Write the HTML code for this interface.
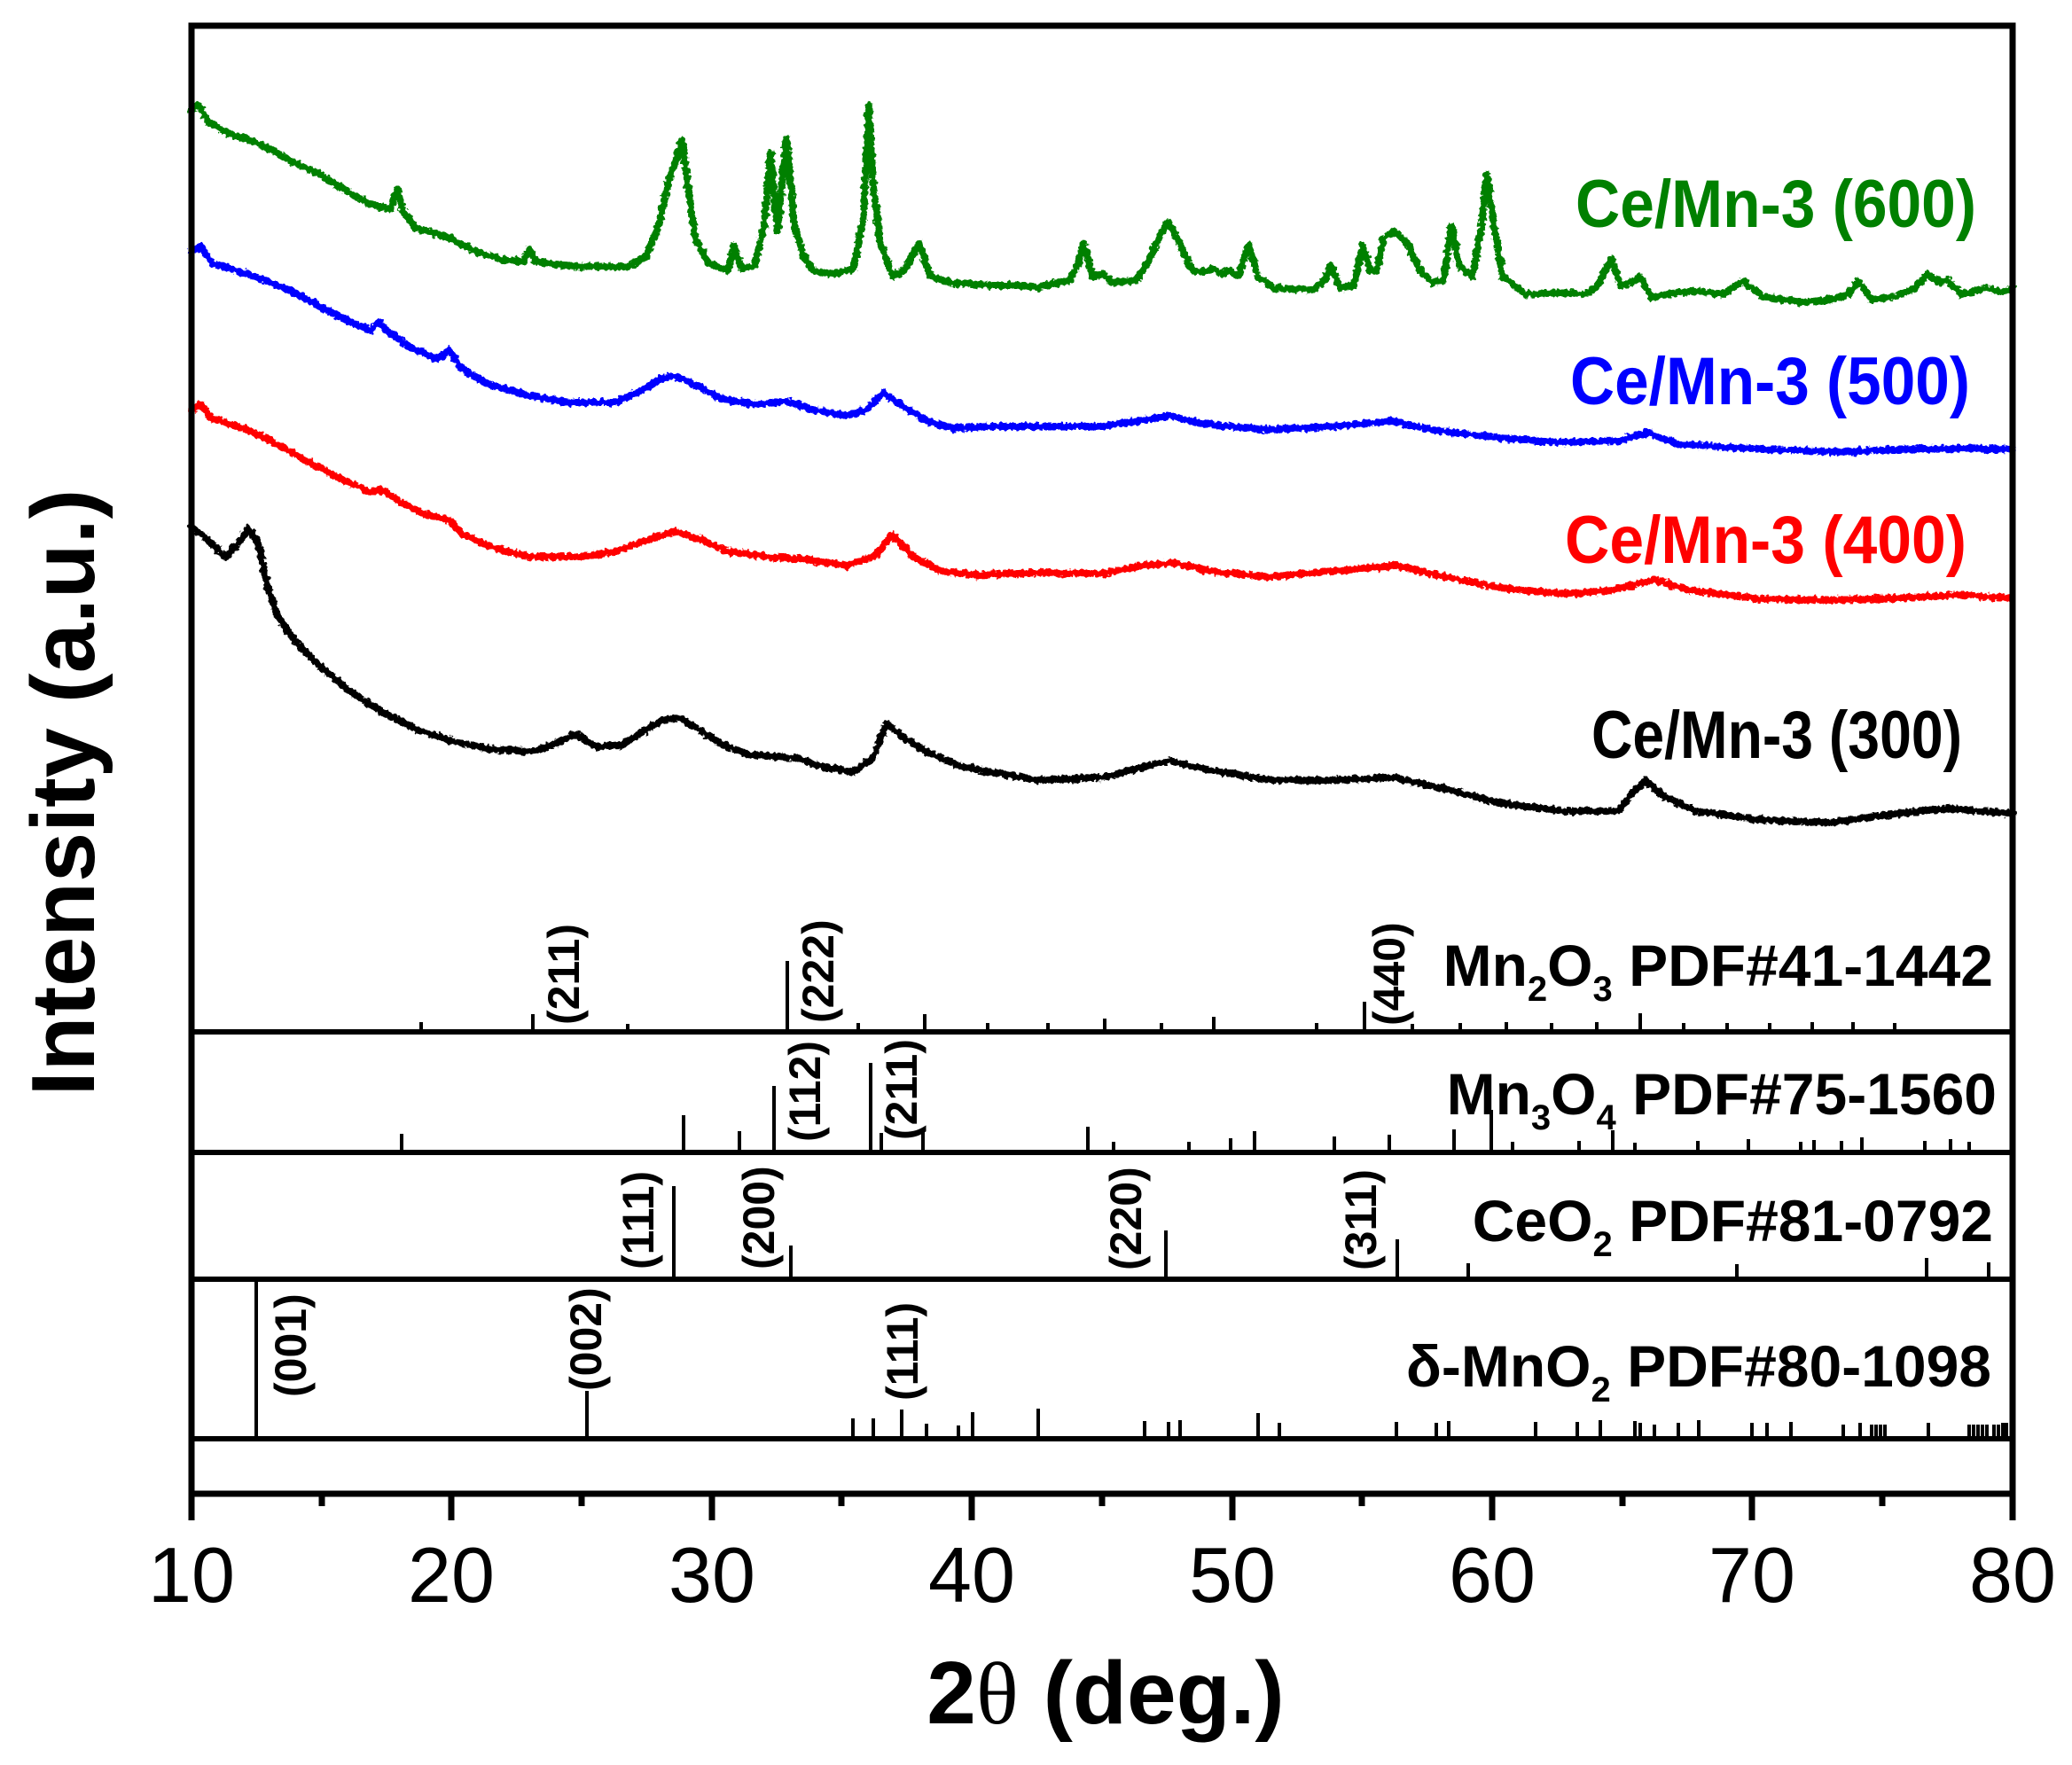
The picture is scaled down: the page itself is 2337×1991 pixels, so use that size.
<!DOCTYPE html>
<html>
<head>
<meta charset="utf-8">
<style>
html,body{margin:0;padding:0;background:#fff;}
svg{display:block;}
text{font-family:"Liberation Sans",Arial,sans-serif;}
</style>
</head>
<body>
<svg width="2337" height="1991" viewBox="0 0 2337 1991" xmlns="http://www.w3.org/2000/svg">
<defs>
<filter id="nz" filterUnits="userSpaceOnUse" x="0" y="0" width="2337" height="1991">
<feTurbulence type="fractalNoise" baseFrequency="0.22" numOctaves="2" seed="7" result="t"/>
<feDisplacementMap in="SourceGraphic" in2="t" scale="7" xChannelSelector="R" yChannelSelector="G"/>
</filter>
</defs>
<rect x="0" y="0" width="2337" height="1991" fill="#fff"/>

<!-- curves -->
<g fill="none" stroke-width="8" stroke-linejoin="round" stroke-linecap="round" filter="url(#nz)">
<polyline stroke="#008000" points="216,124 224,118 235,137 257,150 284,159 306,169 328,182 358,195 388,214 418,230 440,236 448,214 455,239 470,258 507,268 537,284 567,293 590,295 597,281 604,295 642,300 709,301 728,290 743,255 754,204 761,185 769,159 776,210 784,268 799,297 821,305 828,277 836,303 851,300 862,255 869,172 877,261 887,156 896,255 907,290 918,306 940,309 963,303 974,242 980,118 985,210 993,274 1007,312 1019,306 1030,287 1037,275 1049,312 1075,319 1119,322 1149,322 1170,324 1207,316 1215,300 1222,274 1233,312 1244,309 1256,319 1282,316 1296,293 1308,268 1317,250 1330,274 1345,306 1360,306 1367,303 1378,309 1386,305 1397,312 1408,276 1419,312 1438,325 1482,327 1494,316 1501,300 1512,325 1527,322 1537,277 1546,306 1553,306 1561,268 1572,261 1587,274 1602,306 1616,319 1628,316 1637,255 1646,300 1661,312 1671,255 1677,196 1685,255 1695,312 1721,332 1765,330 1788,332 1802,322 1817,292 1828,322 1840,319 1849,312 1862,335 1907,328 1944,332 1966,317 1989,335 2033,341 2063,338 2085,332 2096,317 2111,338 2137,335 2160,325 2174,309 2189,319 2197,316 2212,332 2241,325 2256,330 2270,325"/>
<polyline stroke="#0000FF" points="216,284 226,277 239,297 269,306 299,316 328,328 358,344 388,360 418,373 427,364 440,376 463,392 493,405 507,395 519,415 552,434 597,446 642,454 694,454 724,440 746,427 761,424 784,434 813,450 851,456 888,453 918,462 955,469 978,462 996,443 1015,456 1045,475 1075,483 1119,481 1170,481 1244,481 1282,475 1319,469 1356,478 1430,485 1505,481 1572,475 1616,485 1691,494 1765,499 1825,497 1858,488 1892,501 1988,507 2078,510 2137,507 2212,506 2270,507"/>
<polyline stroke="#FF0000" points="216,462 226,456 239,472 269,481 299,494 328,510 358,526 388,542 418,555 429,552 448,564 478,580 507,587 522,603 560,619 597,628 657,628 694,622 731,609 761,599 791,609 821,622 866,628 910,631 955,638 985,628 1007,603 1030,628 1060,644 1104,649 1170,646 1244,647 1289,638 1326,635 1363,644 1430,651 1505,644 1575,638 1631,651 1691,663 1765,670 1817,666 1866,654 1907,666 1988,676 2063,677 2137,675 2212,671 2270,675"/>
<polyline stroke="#000000" points="216,594 231,606 254,628 269,612 280,596 291,612 302,663 313,695 336,727 366,756 396,781 433,804 470,823 507,835 552,845 597,848 619,842 649,828 672,842 701,841 724,826 746,813 765,809 784,820 813,839 843,851 896,855 925,864 963,871 985,855 1000,816 1015,829 1045,848 1082,864 1119,871 1170,880 1244,877 1282,867 1319,858 1356,867 1430,880 1505,880 1572,877 1631,890 1691,906 1765,915 1825,915 1840,896 1856,880 1877,899 1914,915 1988,925 2063,928 2137,918 2197,912 2270,918"/>
</g>

<!-- legend labels -->
<g font-weight="bold" font-size="76">
<text x="1777" y="256" fill="#008000" textLength="452" lengthAdjust="spacingAndGlyphs">Ce/Mn-3 (600)</text>
<text x="1771" y="456" fill="#0000FF" textLength="451" lengthAdjust="spacingAndGlyphs">Ce/Mn-3 (500)</text>
<text x="1765" y="635" fill="#FF0000" textLength="453" lengthAdjust="spacingAndGlyphs">Ce/Mn-3 (400)</text>
<text x="1795" y="855" fill="#000000" textLength="418" lengthAdjust="spacingAndGlyphs">Ce/Mn-3 (300)</text>
</g>

<!-- reference sticks -->
<g stroke="#000" stroke-width="4">
<path d="M475,1164v-11 M601,1164v-20 M708,1164v-9 M888,1164v-80 M968,1164v-10 M1043,1164v-20 M1114,1164v-10 M1182,1164v-10 M1246,1164v-15 M1310,1164v-10 M1369,1164v-17 M1485,1164v-10 M1539,1164v-34 M1593,1164v-9 M1647,1164v-10 M1699,1164v-11 M1750,1164v-10 M1801,1164v-11 M1850,1164v-21 M1899,1164v-10 M1948,1164v-10 M1996,1164v-10 M2044,1164v-11 M2090,1164v-11 M2137,1164v-10"/>
<path d="M453,1300v-21 M771,1300v-42 M834,1300v-24 M873,1300v-75 M982,1300v-101 M994,1300v-22 M1041,1300v-26 M1227,1300v-29 M1256,1300v-12 M1341,1300v-12 M1388,1300v-16 M1415,1300v-24 M1505,1300v-18 M1567,1300v-20 M1640,1300v-26 M1682,1300v-48 M1706,1300v-12 M1781,1300v-13 M1819,1300v-25 M1844,1300v-11 M1915,1300v-13 M1972,1300v-15 M2031,1300v-12 M2046,1300v-14 M2077,1300v-13 M2100,1300v-17 M2171,1300v-13 M2200,1300v-15 M2221,1300v-12"/>
<path d="M760,1443v-105 M892,1443v-38 M1315,1443v-55 M1576,1443v-45 M1656,1443v-18 M1959,1443v-17 M2173,1443v-24 M2243,1443v-19"/>
<path d="M289,1623v-180 M662,1623v-54 M962,1623v-23 M985,1623v-23 M1017,1623v-33 M1045,1623v-17 M1081,1623v-15 M1097,1623v-30 M1171,1623v-34 M1291,1623v-20 M1318,1623v-19 M1331,1623v-21 M1419,1623v-29 M1443,1623v-18 M1575,1623v-19 M1620,1623v-18 M1634,1623v-20 M1732,1623v-19 M1779,1623v-19 M1805,1623v-21 M1844,1623v-20 M1850,1623v-18 M1866,1623v-16 M1893,1623v-18 M1916,1623v-21 M1976,1623v-18 M1993,1623v-18 M2020,1623v-19 M2079,1623v-16 M2098,1623v-18 M2111,1623v-16 M2116,1623v-16 M2121,1623v-16 M2126,1623v-16 M2175,1623v-18 M2221,1623v-16 M2226,1623v-16 M2231,1623v-16 M2236,1623v-16 M2241,1623v-16 M2249,1623v-16 M2254,1623v-16 M2259,1623v-18 M2263,1623v-18"/>
</g>

<!-- hkl labels -->
<g font-weight="bold" font-size="50" fill="#000">
<text transform="translate(653,1156) rotate(-90)">(211)</text>
<text transform="translate(940,1154) rotate(-90)">(222)</text>
<text transform="translate(1584,1157) rotate(-90)">(440)</text>
<text transform="translate(925,1288) rotate(-90)">(112)</text>
<text transform="translate(1034,1286) rotate(-90)">(211)</text>
<text transform="translate(737,1432) rotate(-90)">(111)</text>
<text transform="translate(873,1432) rotate(-90)">(200)</text>
<text transform="translate(1287,1433) rotate(-90)">(220)</text>
<text transform="translate(1552,1433) rotate(-90)">(311)</text>
<text transform="translate(345,1576) rotate(-90)">(001)</text>
<text transform="translate(678,1569) rotate(-90)">(002)</text>
<text transform="translate(1035,1580) rotate(-90)">(111)</text>
</g>

<!-- panel labels -->
<g font-weight="bold" font-size="66" fill="#000" text-anchor="end">
<text x="2248" y="1112">Mn<tspan font-size="40" dy="17">2</tspan><tspan dy="-17">O</tspan><tspan font-size="40" dy="17">3</tspan><tspan dy="-17"> PDF#41-1442</tspan></text>
<text x="2252" y="1257">Mn<tspan font-size="40" dy="17">3</tspan><tspan dy="-17">O</tspan><tspan font-size="40" dy="17">4</tspan><tspan dy="-17"> PDF#75-1560</tspan></text>
<text x="2248" y="1400">CeO<tspan font-size="40" dy="17">2</tspan><tspan dy="-17"> PDF#81-0792</tspan></text>
<text x="2246" y="1564">δ-MnO<tspan font-size="40" dy="17">2</tspan><tspan dy="-17"> PDF#80-1098</tspan></text>
</g>

<!-- frame and separators -->
<g stroke="#000" fill="none">
<rect x="216" y="29" width="2054" height="1656" stroke-width="7"/>
<path d="M216,1164H2270 M216,1300H2270 M216,1443H2270 M216,1623H2270" stroke-width="6"/>
<path d="M216,1685v30 M509,1685v30 M803,1685v30 M1096,1685v30 M1390,1685v30 M1683,1685v30 M1976,1685v30 M2270,1685v30" stroke-width="7"/>
<path d="M363,1685v14 M656,1685v14 M949,1685v14 M1243,1685v14 M1536,1685v14 M1830,1685v14 M2123,1685v14" stroke-width="7"/>
</g>

<!-- tick labels -->
<g font-size="88" fill="#000" text-anchor="middle">
<text x="216" y="1807">10</text>
<text x="509" y="1807">20</text>
<text x="803" y="1807">30</text>
<text x="1096" y="1807">40</text>
<text x="1390" y="1807">50</text>
<text x="1683" y="1807">60</text>
<text x="1976" y="1807">70</text>
<text x="2270" y="1807">80</text>
</g>

<!-- axis titles -->
<text x="1247" y="1944" font-size="100" font-weight="bold" text-anchor="middle" fill="#000">2<tspan font-family="Liberation Serif, serif" font-weight="normal">θ</tspan> (deg.)</text>
<text transform="translate(106,894) rotate(-90)" font-size="101" font-weight="bold" text-anchor="middle" fill="#000">Intensity (a.u.)</text>
</svg>
</body>
</html>
